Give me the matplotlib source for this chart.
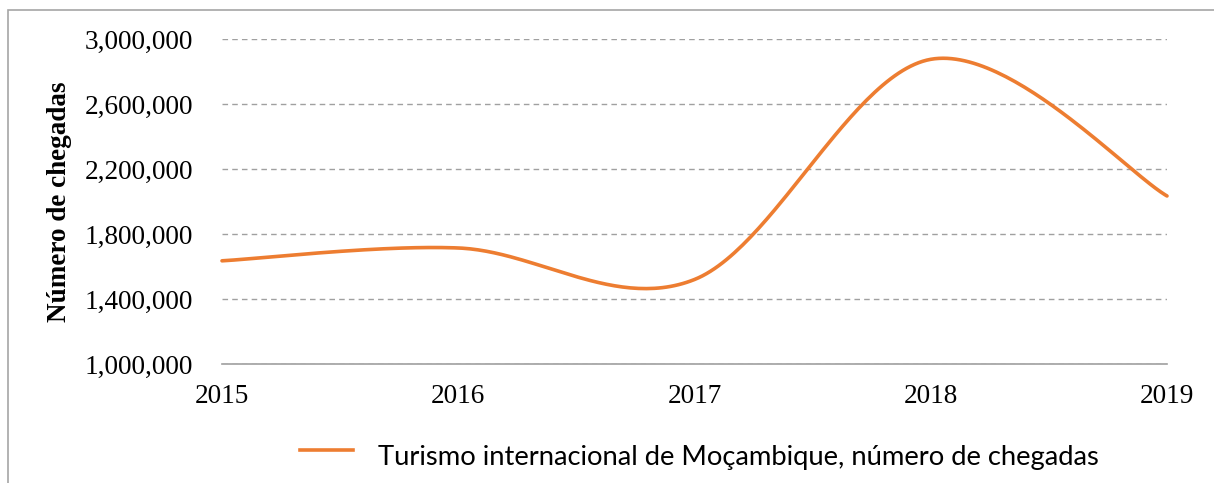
import numpy as np
import matplotlib
matplotlib.use("Agg")
import matplotlib.pyplot as plt
from matplotlib.patches import Rectangle
from matplotlib.ticker import FuncFormatter

# Dados
anos = ["2015", "2016", "2017", "2018", "2019"]
chegadas = [1635000, 1714000, 1520000, 2875000, 2034000]
serie_nome = "Turismo internacional de Moçambique, número de chegadas"

COR = "#ED7D31"
SERIF = "Liberation Serif"


def suavizar(x, y, n=60):
    """Curva suave tipo Catmull-Rom (como a linha suavizada do Excel)."""
    x = np.asarray(x, float)
    y = np.asarray(y, float)
    px = np.concatenate([[x[0]], x, [x[-1]]])
    py = np.concatenate([[y[0]], y, [y[-1]]])
    xs, ys = [], []
    t = np.linspace(0, 1, n)
    for i in range(1, len(px) - 2):
        p0 = np.array([px[i], py[i]])
        p3 = np.array([px[i + 1], py[i + 1]])
        c1 = p0 + (np.array([px[i + 1], py[i + 1]]) - np.array([px[i - 1], py[i - 1]])) / 6
        c2 = p3 - (np.array([px[i + 2], py[i + 2]]) - np.array([px[i], py[i]])) / 6
        b = ((1 - t) ** 3)[:, None] * p0 + (3 * (1 - t) ** 2 * t)[:, None] * c1 \
            + (3 * (1 - t) * t ** 2)[:, None] * c2 + (t ** 3)[:, None] * p3
        xs.append(b[:, 0])
        ys.append(b[:, 1])
    return np.concatenate(xs), np.concatenate(ys)


W, H = 1214, 483
fig = plt.figure(figsize=(W / 100, H / 100), dpi=100)
ax = fig.add_axes([222 / W, 1 - 364 / H, (1167 - 222) / W, (364 - 39) / H])

# moldura do gráfico
fig.patches.append(Rectangle((8 / W, -0.1), 1.2, 1 - 10 / H + 0.1,
                             transform=fig.transFigure, fill=False,
                             edgecolor="#a6a6a6", linewidth=1.2))

x = np.arange(len(anos))
xs, ys = suavizar(x, chegadas)
ax.plot(xs, ys, color=COR, linewidth=2.6, solid_capstyle="round", clip_on=False)

ax.set_xlim(0, len(anos) - 1)
ax.set_ylim(1000000, 3000000)
ax.set_yticks(np.arange(1000000, 3000001, 400000))
ax.set_xticks(x)
ax.set_xticklabels(anos)
ax.yaxis.set_major_formatter(FuncFormatter(lambda v, p: f"{int(v):,}"))

ax.grid(axis="y", color="#a0a0a0", linestyle=(0, (4, 3)), linewidth=1.0)
ax.set_axisbelow(True)
for s in ["left", "right", "top"]:
    ax.spines[s].set_visible(False)
ax.spines["bottom"].set_color("#a0a0a0")
ax.spines["bottom"].set_linewidth(1.2)
ax.tick_params(length=0)
ax.tick_params(axis="y", pad=21)
ax.tick_params(axis="x", pad=14.5)
for lab in ax.get_xticklabels() + ax.get_yticklabels():
    lab.set_fontfamily(SERIF)
    lab.set_fontsize(19.6)

fig.text(59 / W, 1 - 202 / H, "Número de chegadas", rotation=90,
         ha="center", va="center", fontfamily=SERIF, fontweight="bold",
         fontsize=19.5)

# legenda
fig.lines.append(plt.Line2D([300 / W, 353 / W], [1 - 450 / H, 1 - 450 / H],
                            transform=fig.transFigure, color=COR, linewidth=2.6))
fig.text(378 / W, 1 - 457 / H, serie_nome, ha="left", va="center",
         fontfamily="Lato", fontsize=19.7)

fig.savefig("out.png", dpi=100)
